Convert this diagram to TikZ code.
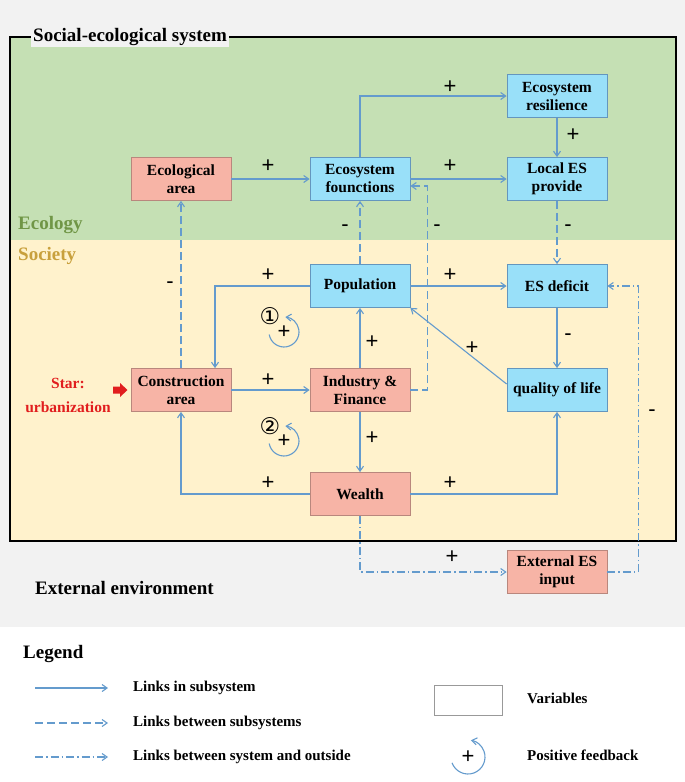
\documentclass[tikz,border=0pt]{standalone}
\usepackage{fontspec}
\setmainfont{Liberation Serif}
\newfontfamily\symfont{DejaVu Sans}
\newfontfamily\plusfont{Liberation Sans}
\usetikzlibrary{arrows.meta}
\definecolor{bggrey}{RGB}{242,242,242}
\definecolor{ecogreen}{RGB}{197,224,180}
\definecolor{socyellow}{RGB}{255,242,204}
\definecolor{pinkfill}{RGB}{247,180,166}
\definecolor{pinkline}{RGB}{185,135,125}
\definecolor{cyanfill}{RGB}{153,224,249}
\definecolor{cyanline}{RGB}{100,150,190}
\definecolor{linkblue}{RGB}{100,155,205}
\definecolor{ecotext}{RGB}{112,150,70}
\definecolor{soctext}{RGB}{200,160,60}
\definecolor{startred}{RGB}{225,30,30}
\tikzset{
  varbox/.style={draw, line width=0.8pt, minimum width=100pt, minimum height=43pt, inner sep=0pt,
     align=center, font=\bfseries\fontsize{15.5}{18}\selectfont},
  pinkbox/.style={varbox, fill=pinkfill, draw=pinkline},
  cyanbox/.style={varbox, fill=cyanfill, draw=cyanline},
  link/.style={draw=linkblue, line width=1.1pt, -{Straight Barb[length=5pt,width=7pt]}},
  between/.style={link, dash pattern=on 8pt off 4pt},
  outside/.style={link, dash pattern=on 8pt off 3pt on 1.5pt off 3pt},
  sign/.style={font=\plusfont\fontsize{22}{22}\selectfont, inner sep=0pt},
  bigtext/.style={font=\bfseries\fontsize{19}{22}\selectfont, inner sep=0pt},
  legtext/.style={font=\bfseries\fontsize{15}{18}\selectfont, inner sep=0pt, anchor=west},
  loop/.style={draw=linkblue, line width=1.1pt, -{Straight Barb[length=5pt,width=7pt]}},
  circnum/.style={font=\symfont\fontsize{23}{23}\selectfont, inner sep=0pt},
}
\begin{document}
\begin{tikzpicture}[x=1pt,y=-1pt]
\useasboundingbox (0,0) rectangle (685,782);
\fill[bggrey] (0,0) rectangle (685,627);
\fill[white] (0,627) rectangle (685,782);
\fill[ecogreen] (10,37) rectangle (676,240);
\fill[socyellow] (10,240) rectangle (676,541);
\draw[black, line width=1.4pt] (10,37) rectangle (676,541);
\node[bigtext, fill=bggrey, inner xsep=2pt, inner ysep=1pt, anchor=west] (title) at (31,37) {Social-ecological system};
\node[bigtext, text=ecotext, anchor=west] (ecology) at (18,225) {Ecology};
\node[bigtext, text=soctext, anchor=west] (society) at (18,256) {Society};

% variables
\node[pinkbox] (eco) at (181,179) {Ecological\\area};
\node[cyanbox] (ef) at (360,179) {Ecosystem\\founctions};
\node[cyanbox] (loc) at (557,179) {Local ES\\provide};
\node[cyanbox] (res) at (557,96) {Ecosystem\\resilience};
\node[cyanbox] (pop) at (360,286) {Population};
\node[cyanbox] (def) at (557,286) {ES deficit};
\node[pinkbox] (con) at (181,390) {Construction\\area};
\node[pinkbox] (ind) at (360,390) {Industry \&\\Finance};
\node[cyanbox] (qol) at (557,390) {quality of life};
\node[pinkbox] (wea) at (360,494) {Wealth};
\node[pinkbox] (ext) at (557,572) {External ES\\input};

% start
\node[align=center, text=startred, font=\bfseries\fontsize{15.5}{24}\selectfont, inner sep=0pt] (star) at (68,395) {Star:\\urbanization};
\fill[startred] (113,386.5) -- (120,386.5) -- (120,383) -- (127.5,390) -- (120,397) -- (120,393.5) -- (113,393.5) -- cycle;

% links in subsystem
\draw[link] (eco) -- (ef);
\draw[link] (ef) -- (loc);
\draw[link] (ef.north) |- (res.west);
\draw[link] (res) -- (loc);
\draw[link] (pop.west) -| ([xshift=34pt]con.north);
\draw[link] (pop) -- (def);
\draw[link] (con) -- (ind);
\draw[link] (ind) -- (pop);
\draw[link] (ind) -- (wea);
\draw[link] (wea.west) -| (con.south);
\draw[link] (wea.east) -| (qol.south);
\draw[link] ([yshift=6pt]qol.west) -- (pop.south east);
\draw[link] (def) -- (qol);

% links between subsystems
\draw[between] (loc) -- (def);
\draw[between] (pop) -- (ef);
\draw[between] (ind.east) -- ++(17,0) |- ([yshift=-7pt]ef.east);
\draw[between] (con) -- (eco);

% links with outside
\draw[outside] (wea.south) |- (ext.west);
\draw[outside] (ext.east) -- ++(31,0) |- (def.east);

% signs
\node[sign] (s1) at (268,166) {+};
\node[sign] (s2) at (450,166) {+};
\node[sign] (s3) at (450,87) {+};
\node[sign] (s4) at (573,135) {+};
\node[sign] (s5) at (568,228) {-};
\node[sign] (s6) at (345,228) {-};
\node[sign] (s7) at (437,228) {-};
\node[sign] (s8) at (170,285) {-};
\node[sign] (s9) at (268,275) {+};
\node[sign] (s10) at (450,275) {+};
\node[sign] (s11) at (268,380) {+};
\node[sign] (s12) at (372,342) {+};
\node[sign] (s13) at (372,438) {+};
\node[sign] (s14) at (268,483) {+};
\node[sign] (s15) at (450,483) {+};
\node[sign] (s16) at (472,348) {+};
\node[sign] (s17) at (568,337) {-};
\node[sign] (s18) at (452,557) {+};
\node[sign] (s19) at (652,413) {-};

% feedback loops
\node[circnum] (n1) at (270,316) {①};
\node[sign] (fb1) at (284,332) {+};
\draw[loop] (fb1.center) ++(190:15pt) arc[start angle=190, end angle=445, radius=15pt];
\node[circnum] (n2) at (270,426) {②};
\node[sign] (fb2) at (284,441) {+};
\draw[loop] (fb2.center) ++(190:15pt) arc[start angle=190, end angle=445, radius=15pt];

% external
\node[bigtext, anchor=west] (extenv) at (35,588) {External environment};

% legend
\node[bigtext, anchor=west] (legend) at (23,654) {Legend};
\coordinate (la1) at (35,688); \coordinate (lb1) at (108,688);
\coordinate (la2) at (35,723); \coordinate (lb2) at (108,723);
\coordinate (la3) at (35,757); \coordinate (lb3) at (108,757);
\draw[link] (la1) -- (lb1);
\draw[between] (la2) -- (lb2);
\draw[outside] (la3) -- (lb3);
\node[legtext] (lt1) at (133,688) {Links in subsystem};
\node[legtext] (lt2) at (133,723) {Links between subsystems};
\node[legtext] (lt3) at (133,757) {Links between system and outside};
\node[draw=gray!80, fill=white, line width=0.8pt, minimum width=68pt, minimum height=30pt, inner sep=0pt] (legbox) at (468,700) {};
\node[legtext] (lt4) at (527,698) {Variables};
\node[sign] (legfb) at (468,757) {+};
\draw[loop] (legfb.center) ++(200:17pt) arc[start angle=200, end angle=440, radius=17pt];
\node[legtext] (lt5) at (527,755) {Positive feedback};
\end{tikzpicture}
\end{document}
